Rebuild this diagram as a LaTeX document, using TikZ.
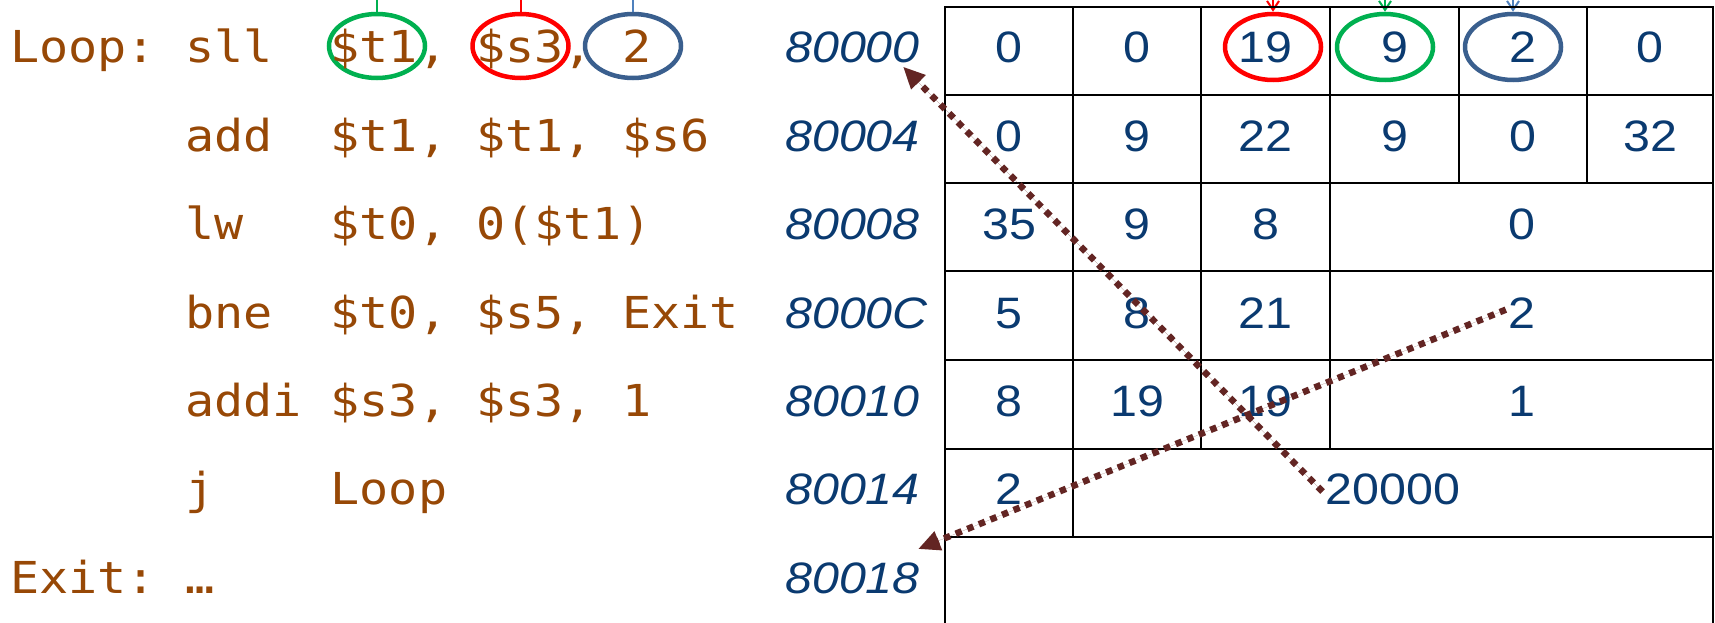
\documentclass[tikz,border=0pt]{standalone}
\usepackage{fontspec}
\usetikzlibrary{shapes.geometric,arrows.meta,calc}
\newfontfamily\codefont[FakeStretch=1.1]{DejaVu Sans Mono}
\newfontfamily\numfont[FakeStretch=1.1]{Liberation Sans}
\definecolor{codebrown}{HTML}{974806}
\definecolor{numblue}{HTML}{0A3A70}
\definecolor{arrowred}{HTML}{632523}
\definecolor{ringblue}{HTML}{3A5F8E}
\definecolor{linkblue}{HTML}{4F81BD}
\definecolor{ringgreen}{HTML}{00B050}
\definecolor{ringred}{HTML}{FF0000}
\begin{document}
\begin{tikzpicture}[x=1pt,y=-1pt,
  code/.style={anchor=base west, inner sep=0pt, text=codebrown, font=\codefont\fontsize{44}{50}\selectfont},
  addr/.style={anchor=base west, inner sep=0pt, text=numblue, font=\numfont\itshape\fontsize{44}{50}\selectfont},
  val/.style={anchor=base, inner sep=0pt, text=numblue, font=\numfont\fontsize{44}{50}\selectfont},
  gridline/.style={draw=black, line width=2.8pt},
  ring/.style={ellipse, draw, line width=4.5pt, minimum width=96pt, minimum height=64pt, inner sep=0pt},
  link/.style={line width=2pt, -{Straight Barb[length=9pt,width=12pt]}},
  jump/.style={draw=arrowred, fill=arrowred, line width=6.5pt, dash pattern=on 6.5pt off 6pt, -{Triangle[length=22pt,width=19pt]}}
]
\useasboundingbox (0,0) rectangle (1715,623);
\clip (0,0) rectangle (1715,623);

% rings
\node[ring, draw=ringgreen] (lg) at (377,46) {};
\node[ring, draw=ringred] (lr) at (520.5,46) {};
\node[ring, draw=ringblue] (lb) at (633,46) {};
\node[ring, draw=ringred, minimum height=66pt] (rr) at (1273,47) {};
\node[ring, draw=ringgreen, minimum height=66pt] (rg) at (1385,47) {};
\node[ring, draw=ringblue, minimum height=66pt] (rb) at (1513,47) {};

% connectors between rings (run above the visible area)
\draw[link, ringgreen] (lg.north) -- ++(0,-60) -| (rg.north);
\draw[link, ringred] (lr.north) -- ++(0,-40) -| (rr.north);
\draw[link, linkblue] (lb.north) -- ++(0,-20) -| (rb.north);

% table grid
\draw[gridline] (945,640) -- (945,7) -- (1713,7) -- (1713,640);
\foreach \y in {95,183,271,360,449,537} \draw[gridline] (945,\y) -- (1713,\y);
\foreach \x in {1073,1201,1330,1459,1587} \draw[gridline] (\x,7) -- (\x,183);
\foreach \x in {1073,1201,1330} \draw[gridline] (\x,183) -- (\x,449);
\draw[gridline] (1073,449) -- (1073,537);

% code
\node[code] (l0) at (10,63) {Loop:~sll~~\$t1,~\$s3,~2};
\node[code] (l1) at (10,151.3) {~~~~~~add~~\$t1,~\$t1,~\$s6};
\node[code] (l2) at (10,239.7) {~~~~~~lw~~~\$t0,~0(\$t1)};
\node[code] (l3) at (10,328) {~~~~~~bne~~\$t0,~\$s5,~Exit};
\node[code] (l4) at (10,416.3) {~~~~~~addi~\$s3,~\$s3,~1};
\node[code] (l5) at (10,504.7) {~~~~~~j~~~~Loop};
\node[code] (l6) at (10,593) {Exit:~…};

% addresses
\node[addr] (a0) at (785,63) {80000};
\node[addr] (a1) at (785,151.3) {80004};
\node[addr] (a2) at (785,239.7) {80008};
\node[addr] (a3) at (785,328) {8000C};
\node[addr] (a4) at (785,416.3) {80010};
\node[addr] (a5) at (785,504.7) {80014};
\node[addr] (a6) at (785,593) {80018};

% row 1
\node[val] (r1c1) at (1009,63) {0};
\node[val] (r1c2) at (1137,63) {0};
\node[val] (r1c3) at (1265.5,63) {19};
\node[val] (r1c4) at (1394.5,63) {9};
\node[val] (r1c5) at (1523,63) {2};
\node[val] (r1c6) at (1650,63) {0};
% row 2
\node[val] (r2c1) at (1009,151.3) {0};
\node[val] (r2c2) at (1137,151.3) {9};
\node[val] (r2c3) at (1265.5,151.3) {22};
\node[val] (r2c4) at (1394.5,151.3) {9};
\node[val] (r2c5) at (1523,151.3) {0};
\node[val] (r2c6) at (1650,151.3) {32};
% row 3
\node[val] (r3c1) at (1009,239.7) {35};
\node[val] (r3c2) at (1137,239.7) {9};
\node[val] (r3c3) at (1265.5,239.7) {8};
\node[val] (r3c4) at (1521.5,239.7) {0};
% row 4
\node[val] (r4c1) at (1009,328) {5};
\node[val] (r4c2) at (1137,328) {8};
\node[val] (r4c3) at (1265.5,328) {21};
\node[val] (r4c4) at (1521.5,328) {2};
% row 5
\node[val] (r5c1) at (1009,416.3) {8};
\node[val] (r5c2) at (1137,416.3) {19};
\node[val] (r5c3) at (1265.5,416.3) {19};
\node[val] (r5c4) at (1521.5,416.3) {1};
% row 6
\node[val] (r6c1) at (1009,504.7) {2};
\node[val] (r6c2) at (1393,504.7) {20000};

% dotted jump arrows
\draw[jump] ($(r6c2.west)+(-3,2)$) -- ($(a0.south east)+(-17,3)$);
\draw[jump] ($(r4c4.west)+(-2,-3)$) -- ($(a6.north east)+(-2,-13)$);
\end{tikzpicture}
\end{document}
